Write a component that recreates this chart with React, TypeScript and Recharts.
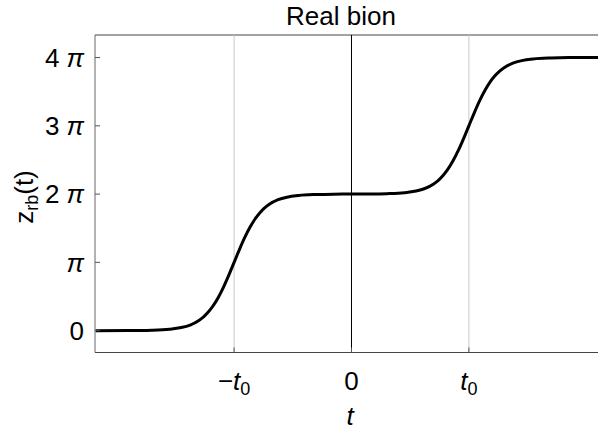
import React from "react";
import {Line, LineChart, ReferenceLine, XAxis, YAxis} from "recharts";

// t in units of t0, z in units of pi
const tValues = [
    -2.18, -1.9, -1.7, -1.55, -1.45, -1.375, -1.3, -1.26, -1.22, -1.18, -1.135, -1.09, -1.045, -1,
    -0.955, -0.91, -0.865, -0.82, -0.78, -0.74, -0.7, -0.625, -0.55, -0.45, -0.3, -0.15, 0,
    0.15, 0.3, 0.45, 0.55, 0.625, 0.7, 0.74, 0.78, 0.82, 0.865, 0.91, 0.955, 1,
    1.045, 1.09, 1.135, 1.18, 1.22, 1.26, 1.3, 1.375, 1.45, 1.55, 1.7, 1.85, 2.1,
];
const zValues = [
    0, 0.001, 0.006, 0.02, 0.045, 0.082, 0.149, 0.202, 0.272, 0.361, 0.487, 0.639, 0.813, 1.0,
    1.187, 1.361, 1.513, 1.639, 1.728, 1.798, 1.851, 1.918, 1.955, 1.98, 1.994, 1.999, 2.0,
    2.001, 2.006, 2.02, 2.045, 2.082, 2.149, 2.202, 2.272, 2.361, 2.487, 2.639, 2.813, 3.0,
    3.187, 3.361, 3.513, 3.639, 3.728, 3.798, 3.851, 3.918, 3.955, 3.98, 3.994, 3.999, 4.0,
];
const xTicks = [-1, 0, 1];
const yTicks = [0, 1, 2, 3, 4];
const yTickLabels = ["0", "", "2", "3", "4"];

const X_DOMAIN = [-2.185, 2.1];
const Y_DOMAIN = [-0.32, 4.33];

const data = tValues.map((t, i) => ({t, z: zValues[i]}));

const FONT = "'Liberation Sans', Arial, sans-serif";

const XTick = (props: any) => {
    const {x, y, payload} = props;
    const v = payload.value;
    return (
        <g>
            <line x1={x} x2={x} y1={y} y2={y - 5} stroke="#555"/>
            <text x={x} y={y + 37} textAnchor="middle" fontSize={26} fontFamily={FONT} fill="#000">
                {v === 0 ? "0" : (
                    <>
                        {v < 0 ? "\u2212" : ""}
                        <tspan fontStyle="italic">t</tspan>
                        <tspan fontSize={18} dy={5}>0</tspan>
                    </>
                )}
            </text>
        </g>
    );
};

const YTick = (props: any) => {
    const {x, y, payload} = props;
    const idx = yTicks.indexOf(payload.value);
    const num = yTickLabels[idx];
    return (
        <g>
            <line x1={x} x2={x + 5} y1={y} y2={y} stroke="#555"/>
            <text x={x - 11} y={y} dy="0.36em" textAnchor="end" fontSize={26} fontFamily={FONT} fill="#000">
                {payload.value === 0 ? "0" : (
                    <>
                        {num ? num + " " : ""}
                        <tspan fontStyle="italic">{"\u03C0"}</tspan>
                    </>
                )}
            </text>
        </g>
    );
};

export default function App() {
    return (
        <div style={{position: "absolute", left: 0, top: 0, width: 598, height: 431, background: "#fff"}}>
            <LineChart width={598} height={431} data={data} margin={{top: 35, right: 0, bottom: 0, left: 0}}>
                <XAxis
                    dataKey="t"
                    type="number"
                    domain={X_DOMAIN}
                    allowDataOverflow
                    ticks={xTicks}
                    tickSize={0}
                    tickMargin={0}
                    height={78.5}
                    axisLine={{stroke: "#444"}}
                    tickLine={false}
                    tick={<XTick/>}
                    interval={0}
                />
                <YAxis
                    type="number"
                    domain={Y_DOMAIN}
                    allowDataOverflow
                    ticks={yTicks}
                    tickSize={0}
                    tickMargin={0}
                    width={95}
                    axisLine={{stroke: "#666"}}
                    tickLine={false}
                    tick={<YTick/>}
                    interval={0}
                />
                <ReferenceLine y={Y_DOMAIN[1]} stroke="#444"/>
                <ReferenceLine x={-1} stroke="#c8c8c8"/>
                <ReferenceLine x={1} stroke="#c8c8c8"/>
                <ReferenceLine x={0} stroke="#000"/>
                <Line
                    dataKey="z"
                    type="monotone"
                    stroke="#000"
                    strokeWidth={3}
                    dot={false}
                    isAnimationActive={false}
                />
            </LineChart>
            <svg width={598} height={431} style={{position: "absolute", left: 0, top: 0, pointerEvents: "none"}}>
                <text x={341} y={25} textAnchor="middle" fontSize={26} fontFamily={FONT} fill="#000">Real bion</text>
                <text x={350} y={425} textAnchor="middle" fontSize={26} fontFamily={FONT} fontStyle="italic" fill="#000">t</text>
                <text transform="translate(33,197) rotate(-90)" textAnchor="middle" fontSize={26} fontFamily={FONT} fill="#000">
                    z<tspan fontSize={18} dy={5}>rb</tspan><tspan dy={-5}>(t)</tspan>
                </text>
            </svg>
        </div>
    );
}
